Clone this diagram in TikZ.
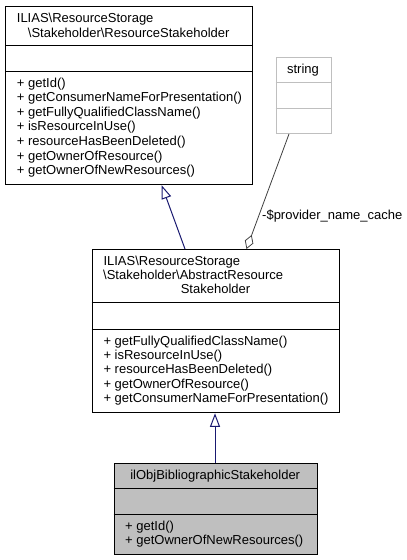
\documentclass[tikz,border=0pt]{standalone}
\usepackage{fontspec}
\setmainfont{Liberation Sans}
\usetikzlibrary{arrows.meta,calc}
\definecolor{edgeblue}{HTML}{191970}
\definecolor{boxgray}{HTML}{BFBFBF}
\definecolor{aggr}{HTML}{404040}
\tikzset{
  box/.style={draw=black, line width=1pt, rectangle, inner sep=0pt, anchor=north west},
  gbox/.style={draw=boxgray, line width=1pt, rectangle, inner sep=0pt, anchor=north west},
  txt/.style={inner sep=0pt, anchor=base west, font=\fontsize{13}{15}\selectfont},
  ctxt/.style={inner sep=0pt, anchor=base, font=\fontsize{13}{15}\selectfont},
  inherit/.style={draw=edgeblue, line width=1pt, -{Triangle[open, length=13.5pt, width=10pt]}},
  aggreg/.style={draw=aggr, line width=0.8pt, -{Diamond[open, length=15pt, width=9pt]}},
}
\begin{document}
\begin{tikzpicture}[x=1pt, y=-1pt]
\useasboundingbox (0,0) rectangle (407,560);

% Top box: ResourceStakeholder
\node[box, minimum width=247.3pt, minimum height=178.6pt] (rs) at (5,5.7) {};
\draw[line width=1pt] (rs.west |- 0,45.7) -- (rs.east |- 0,45.7);
\draw[line width=1pt] (rs.west |- 0,71) -- (rs.east |- 0,71);
\node[txt] (rs1) at (16.7,22.7) {ILIAS\textbackslash ResourceStorage};
\node[ctxt] (rs2) at (128.7,37) {\textbackslash Stakeholder\textbackslash ResourceStakeholder};
\node[txt] (rsm1) at (16.7,87) {+ getId()};
\node[txt] (rsm2) at (16.7,101.6) {+ getConsumerNameForPresentation()};
\node[txt] (rsm3) at (16.7,116.2) {+ getFullyQualifiedClassName()};
\node[txt] (rsm4) at (16.7,130.8) {+ isResourceInUse()};
\node[txt] (rsm5) at (16.7,145.4) {+ resourceHasBeenDeleted()};
\node[txt] (rsm6) at (16.7,160) {+ getOwnerOfResource()};
\node[txt] (rsm7) at (16.7,174.6) {+ getOwnerOfNewResources()};

% string box
\node[gbox, minimum width=55pt, minimum height=76pt] (str) at (275.5,57) {};
\draw[draw=boxgray, line width=1pt] (str.west |- 0,82.5) -- (str.east |- 0,82.5);
\draw[draw=boxgray, line width=1pt] (str.west |- 0,108) -- (str.east |- 0,108);
\node[ctxt] (strt) at (303,73.5) {string};

% Middle box: AbstractResourceStakeholder
\node[box, minimum width=247.3pt, minimum height=163.3pt] (ars) at (91.7,249) {};
\draw[line width=1pt] (ars.west |- 0,302.7) -- (ars.east |- 0,302.7);
\draw[line width=1pt] (ars.west |- 0,329) -- (ars.east |- 0,329);
\node[txt] (ars1) at (103.3,265) {ILIAS\textbackslash ResourceStorage};
\node[txt] (ars2) at (103,279.3) {\textbackslash Stakeholder\textbackslash AbstractResource};
\node[ctxt] (ars3) at (215.5,293.6) {Stakeholder};
\node[txt] (arsm1) at (103.3,345) {+ getFullyQualifiedClassName()};
\node[txt] (arsm2) at (103.3,359.4) {+ isResourceInUse()};
\node[txt] (arsm3) at (103.3,373.8) {+ resourceHasBeenDeleted()};
\node[txt] (arsm4) at (103.3,388.2) {+ getOwnerOfResource()};
\node[txt] (arsm5) at (103.3,402.6) {+ getConsumerNameForPresentation()};

% Bottom box: ilObjBibliographicStakeholder
\node[box, fill=boxgray, minimum width=203pt, minimum height=91pt] (bib) at (113.7,463) {};
\draw[line width=1pt] (bib.west |- 0,488.7) -- (bib.east |- 0,488.7);
\draw[line width=1pt] (bib.west |- 0,514) -- (bib.east |- 0,514);
\node[ctxt] (bibt) at (215.2,479) {ilObjBibliographicStakeholder};
\node[txt] (bibm1) at (125,530) {+ getId()};
\node[txt] (bibm2) at (125,544.4) {+ getOwnerOfNewResources()};

% connection points
\coordinate (arsTopL) at ($(ars.north west)+(93.3,0)$);
\coordinate (rsBot) at ($(rs.south west)+(156.7,0)$);
\coordinate (bibTop) at ($(bib.north west)+(101.3,0)$);
\coordinate (arsBot) at ($(ars.south west)+(123.3,0)$);
\coordinate (strBot) at ($(str.south west)+(13.5,0)$);
\coordinate (arsTopR) at ($(ars.north west)+(154.8,0)$);

% connectors
\draw[inherit] (arsTopL) -- (rsBot);
\draw[inherit] (bibTop) -- (arsBot);
\draw[aggreg] (strBot) -- (arsTopR);
\node[txt] (lbl) at (262,219.5) {-\$provider\_name\_cache};
\end{tikzpicture}
\end{document}
